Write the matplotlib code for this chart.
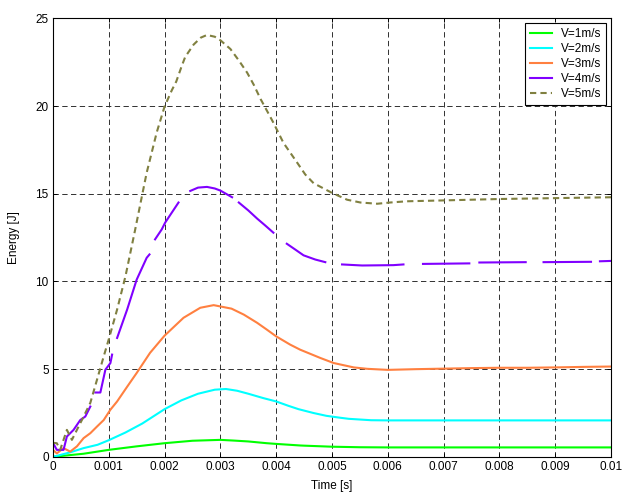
import numpy as np
import matplotlib
matplotlib.use("Agg")
import matplotlib.pyplot as plt

nan = np.nan

labels = ["V=1m/s", "V=2m/s", "V=3m/s", "V=4m/s", "V=5m/s"]
colors = ["#00ff00", "#00ffff", "#ff8040", "#8000ff", "#808040"]

t1 = [0, 0.0003, 0.00055, 0.001, 0.0015, 0.002, 0.0025, 0.003, 0.00324, 0.0035,
      0.00383, 0.004, 0.00443, 0.0045, 0.005, 0.0055, 0.006, 0.007, 0.008, 0.009, 0.01]
e1 = [0, 0.1, 0.18, 0.4, 0.6, 0.78, 0.92, 0.97, 0.93, 0.88,
      0.78, 0.74, 0.65, 0.64, 0.58, 0.55, 0.54, 0.54, 0.54, 0.54, 0.54]

t2 = [0, 0.0003, 0.00055, 0.0008, 0.001, 0.0013, 0.0016, 0.002, 0.0023, 0.0026,
      0.0029, 0.0031, 0.0033, 0.0035, 0.00377, 0.004, 0.00422, 0.0044, 0.00467,
      0.0049, 0.00515, 0.0053, 0.0057, 0.006, 0.007, 0.008, 0.009, 0.01]
e2 = [0, 0.25, 0.5, 0.69, 0.95, 1.39, 1.9, 2.72, 3.22, 3.6,
      3.83, 3.87, 3.77, 3.6, 3.35, 3.16, 2.91, 2.72, 2.5,
      2.34, 2.23, 2.17, 2.09, 2.08, 2.08, 2.08, 2.08, 2.08]

t3 = [0, 0.00007, 0.00019, 0.00031, 0.00043, 0.00055, 0.00067, 0.00079, 0.00091,
      0.00103, 0.00115, 0.00133, 0.0015, 0.00174, 0.002, 0.00234, 0.00264, 0.00288,
      0.0032, 0.00342, 0.00366, 0.00383, 0.004, 0.00425, 0.00443, 0.00479, 0.00503,
      0.00539, 0.00563, 0.006, 0.0065, 0.007, 0.0075, 0.008, 0.0085, 0.009, 0.0095, 0.01]
e3 = [0.4, 0.2, 0.5, 0.3, 0.6, 1.07, 1.35, 1.73, 2.1,
      2.69, 3.16, 4.0, 4.78, 5.93, 6.91, 7.93, 8.5, 8.65,
      8.45, 8.11, 7.64, 7.26, 6.87, 6.4, 6.11, 5.64, 5.35,
      5.1, 5.02, 4.96, 5.0, 5.03, 5.06, 5.08, 5.08, 5.1, 5.13, 5.15]

# V=4 has gaps in the recorded data (nan separates segments)
t4 = [0, 0.00007, 0.00019, 0.00025, 0.00037, 0.00049, 0.00058, 0.00067, nan,
      0.00076, 0.00085, 0.00094, 0.00103, 0.00106, nan,
      0.00115, 0.00133, 0.0015, 0.00168, 0.00173, nan,
      0.00183, 0.00195, 0.00201, 0.00225, nan,
      0.00246, 0.0026, 0.00276, 0.0029, 0.003, 0.00321, nan,
      0.00333, 0.0035, 0.00366, 0.0038, 0.00395, nan,
      0.00419, 0.00435, 0.00449, 0.0047, 0.00488, nan,
      0.00518, 0.00554, 0.0061, 0.00628, nan,
      0.00663, 0.00746, nan,
      0.00764, 0.00847, nan,
      0.00879, 0.00964, nan,
      0.0098, 0.01]
e4 = [0.8, 0.4, 0.4, 1.16, 1.54, 2.1, 2.3, 2.87, nan,
      3.67, 3.67, 4.97, 5.35, 5.83, nan,
      6.78, 8.4, 10.1, 11.35, 11.54, nan,
      12.4, 12.97, 13.35, 14.5, nan,
      15.16, 15.35, 15.39, 15.3, 15.18, 14.8, nan,
      14.5, 14.05, 13.58, 13.2, 12.78, nan,
      12.15, 11.8, 11.49, 11.25, 11.1, nan,
      10.97, 10.91, 10.93, 10.97, nan,
      11.0, 11.03, nan,
      11.08, 11.1, nan,
      11.1, 11.12, nan,
      11.15, 11.17]

t5 = [0, 0.00007, 0.00013, 0.00025, 0.00034, 0.00043, 0.00055, 0.00067, 0.00079,
      0.00091, 0.001, 0.00115, 0.0013, 0.00147, 0.0016, 0.00168, 0.00186, 0.002,
      0.00213, 0.00221, 0.00231, 0.00237, 0.00252, 0.00265, 0.00276, 0.0029, 0.003,
      0.00318, 0.00333, 0.00348, 0.0036, 0.00372, 0.00384, 0.00395, 0.00413, 0.00425,
      0.00437, 0.00452, 0.00467, 0.00482, 0.005, 0.00527, 0.00551,
      0.00581, 0.00604, 0.00634, 0.007, 0.008, 0.009, 0.01]
e5 = [0.8, 0.78, 0.4, 1.54, 0.97, 1.54, 2.3, 3.08, 4.4,
      5.73, 6.7, 8.4, 10.3, 12.9, 14.95, 16.2, 18.5, 19.97,
      20.9, 21.4, 22.3, 22.8, 23.5, 23.9, 24.05, 23.95, 23.75,
      23.25, 22.6, 21.9, 21.2, 20.4, 19.7, 19.05, 17.9, 17.35,
      16.8, 16.1, 15.6, 15.35, 15.05, 14.66, 14.5,
      14.43, 14.5, 14.57, 14.62, 14.7, 14.75, 14.8]

xticks = [0, 0.001, 0.002, 0.003, 0.004, 0.005, 0.006, 0.007, 0.008, 0.009, 0.01]
xticklabels = ["0", "0.001", "0.002", "0.003", "0.004", "0.005", "0.006",
               "0.007", "0.008", "0.009", "0.01"]
yticks = [0, 5, 10, 15, 20, 25]

plt.rcParams['font.family'] = ['Liberation Sans', 'DejaVu Sans']
fs = 8.5

fig = plt.figure(figsize=(6.3, 4.95), dpi=100)
ax = fig.add_axes([0.084, 0.077, 0.886, 0.886])

series = [(t1, e1), (t2, e2), (t3, e3), (t4, e4), (t5, e5)]
for i, (t, e) in enumerate(series):
    if i == 4:
        ax.plot(t, e, color=colors[i], lw=1.5, dashes=(3, 2), label=labels[i])
    else:
        ax.plot(t, e, color=colors[i], lw=1.5, label=labels[i])

ax.set_xlim(0, 0.01)
ax.set_ylim(0, 25)
ax.set_xticks(xticks)
ax.set_xticklabels(xticklabels)
ax.set_yticks(yticks)
ax.grid(True, color='#303030', linestyle=(0, (5.5, 3.5)), linewidth=0.7)
ax.set_axisbelow(True)
ax.tick_params(direction='in', top=True, right=True, length=3, width=0.7,
               labelsize=fs, pad=3)
for s in ax.spines.values():
    s.set_linewidth(0.8)
ax.set_xlabel("Time [s]", fontsize=fs, labelpad=5)
ax.set_ylabel("Energy [J]", fontsize=fs, labelpad=11)

leg = ax.legend(loc='upper right', fontsize=fs, frameon=True, fancybox=False,
                edgecolor='black', framealpha=1, borderaxespad=0.4,
                handlelength=1.9, handletextpad=0.7, labelspacing=0.25,
                borderpad=0.45)
leg.get_frame().set_linewidth(0.8)

fig.savefig("out.png", dpi=100)
